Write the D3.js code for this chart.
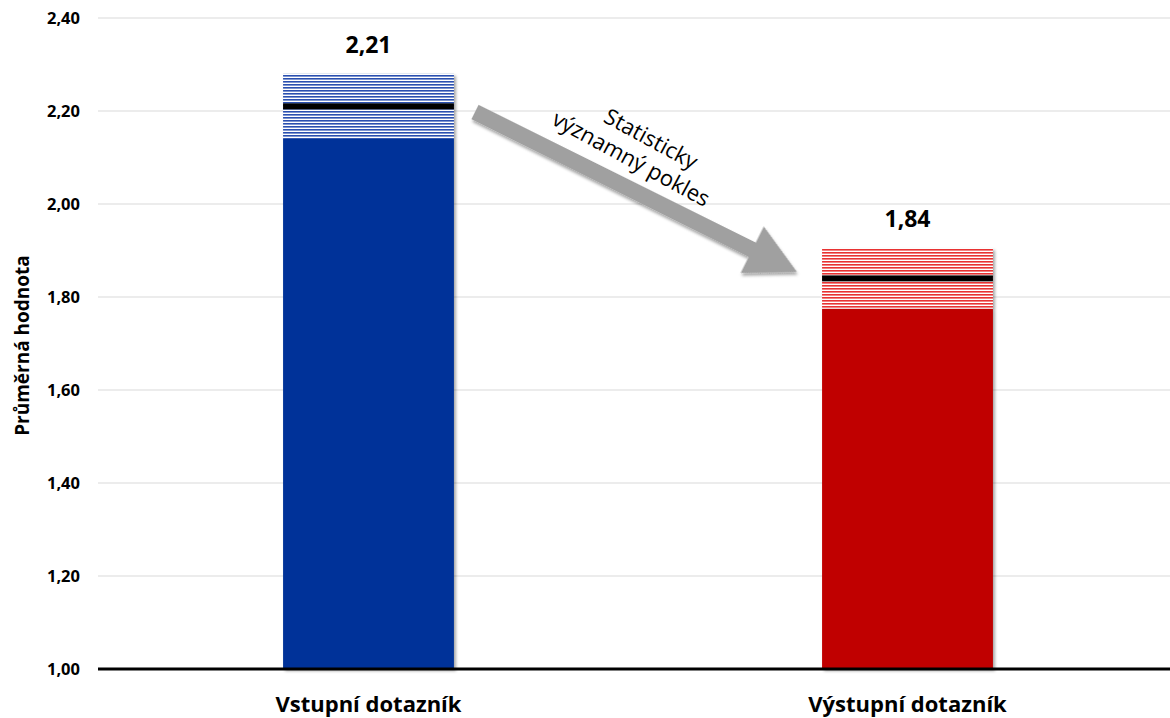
<!DOCTYPE html>
<html>
<head>
<meta charset="utf-8">
<script src="https://cdn.jsdelivr.net/npm/d3@7"></script>
<style>
  body { margin: 0; background: #fff; }
  svg { display: block; font-family: "Open Sans", Lato, sans-serif; }
</style>
</head>
<body>
<svg id="chart" width="1170" height="718"></svg>
<script>
// data
var categories = ["Vstupní dotazník", "Výstupní dotazník"];
var means = [2.21, 1.84];
var ciLow = [2.14, 1.775];
var ciHigh = [2.28, 1.905];
var yTicks = [1.0, 1.2, 1.4, 1.6, 1.8, 2.0, 2.2, 2.4];
var barColors = ["#003399", "#c00000"];
var stripeColors = ["#2a4fb0", "#e83030"];

var svg = d3.select("svg#chart");
var width = 1170, height = 718;

var locale = d3.formatLocale({decimal: ",", thousands: " ", grouping: [3], currency: ["", " Kč"]});
var fmt = locale.format(".2f");

var x = d3.scaleBand()
    .domain(categories)
    .range([99, 1177])
    .paddingInner(0.683)
    .paddingOuter(0.3415);

var y = d3.scaleLinear()
    .domain([1.0, 2.4])
    .range([669, 18]);

var defs = svg.append("defs");

// horizontal stripe patterns for the confidence band
stripeColors.forEach(function(c, i) {
    var p = defs.append("pattern")
        .attr("id", "stripe" + i)
        .attr("patternUnits", "userSpaceOnUse")
        .attr("width", 8)
        .attr("height", 3);
    p.append("rect").attr("width", 8).attr("height", 3).attr("fill", "#fff");
    p.append("rect").attr("width", 8).attr("height", 1.6).attr("fill", c);
});

var shadow = defs.append("filter").attr("id", "shadow")
    .attr("x", "-10%").attr("y", "-10%").attr("width", "130%").attr("height", "130%");
shadow.append("feDropShadow")
    .attr("dx", 2).attr("dy", 2).attr("stdDeviation", 1.5)
    .attr("flood-color", "#000").attr("flood-opacity", 0.35);

// gridlines
svg.append("g")
    .selectAll("line")
    .data(yTicks.slice(1))
    .enter()
    .append("line")
    .attr("x1", 98).attr("x2", width)
    .attr("y1", d => y(d)).attr("y2", d => y(d))
    .style("stroke", "#d9d9d9")
    .style("stroke-width", 1);

// y tick labels
svg.append("g")
    .selectAll("text")
    .data(yTicks)
    .enter()
    .append("text")
    .attr("x", 80)
    .attr("y", d => y(d))
    .attr("dy", "0.35em")
    .attr("text-anchor", "end")
    .attr("font-size", 16.5)
    .attr("font-weight", "bold")
    .text(d => fmt(d));

// y axis title
svg.append("text")
    .attr("transform", "translate(29," + (y(1.7) + 2) + ")rotate(-90)")
    .attr("text-anchor", "middle")
    .attr("font-size", 19)
    .attr("font-weight", "bold")
    .text("Průměrná hodnota");

// bars
var bars = svg.append("g")
    .selectAll("g")
    .data(categories)
    .enter()
    .append("g")
    .attr("filter", "url(#shadow)");

bars.append("rect")
    .attr("x", d => x(d))
    .attr("width", x.bandwidth())
    .attr("y", (d, i) => y(ciLow[i]))
    .attr("height", (d, i) => y(1.0) - y(ciLow[i]))
    .style("fill", (d, i) => barColors[i]);

bars.append("rect")
    .attr("x", d => x(d))
    .attr("width", x.bandwidth())
    .attr("y", (d, i) => y(ciHigh[i]))
    .attr("height", (d, i) => y(ciLow[i]) - y(ciHigh[i]))
    .style("fill", (d, i) => "url(#stripe" + i + ")");

bars.append("rect")
    .attr("x", d => x(d))
    .attr("width", x.bandwidth())
    .attr("y", (d, i) => y(means[i]) - 3)
    .attr("height", 6)
    .style("fill", "#000");

// value labels
svg.append("g")
    .selectAll("text")
    .data(categories)
    .enter()
    .append("text")
    .attr("x", d => x(d) + x.bandwidth() / 2)
    .attr("y", (d, i) => y(ciHigh[i]) - 21)
    .attr("text-anchor", "middle")
    .attr("font-size", 23)
    .attr("font-weight", "bold")
    .text((d, i) => fmt(means[i]));

// baseline
svg.append("line")
    .attr("x1", 98).attr("x2", width)
    .attr("y1", y(1.0)).attr("y2", y(1.0))
    .style("stroke", "#000")
    .style("stroke-width", 3);

// category labels
svg.append("g")
    .selectAll("text")
    .data(categories)
    .enter()
    .append("text")
    .attr("x", d => x(d) + x.bandwidth() / 2)
    .attr("y", 712)
    .attr("text-anchor", "middle")
    .attr("font-size", 22)
    .attr("font-weight", "bold")
    .text(d => d);

// arrow showing the drop
var x0 = 475, y0 = 112, x1 = 797, y1 = 272;
var ang = Math.atan2(y1 - y0, x1 - x0) * 180 / Math.PI;
var len = Math.hypot(x1 - x0, y1 - y0);
var arrow = svg.append("g")
    .attr("transform", "translate(" + x0 + "," + y0 + ")rotate(" + ang + ")");
arrow.append("path")
    .attr("d", "M0,-8 L" + (len - 50) + ",-8 L" + (len - 50) + ",-26 L" + len + ",0 L" +
        (len - 50) + ",26 L" + (len - 50) + ",8 L0,8 Z")
    .style("fill", "#a0a0a0")
    .attr("filter", "url(#shadow)");

var note = svg.append("g")
    .attr("transform", "translate(637,148)rotate(" + (ang + 2) + ")")
    .attr("font-size", 22)
    .attr("text-anchor", "middle");
note.append("text").attr("x", 8).attr("y", -7).text("Statisticky");
note.append("text").attr("x", 0).attr("y", 20).text("významný pokles");
</script>
</body>
</html>
